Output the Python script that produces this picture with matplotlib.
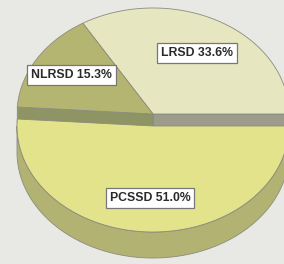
import numpy as np
import matplotlib
matplotlib.use("Agg")
import matplotlib.pyplot as plt
from matplotlib.patches import Polygon

# ---- data ----
labels = ["LRSD", "NLRSD", "PCSSD"]
values = [33.6, 15.3, 51.0]
exploded = [False, False, True]

# ---- style ----
top_colors = ["#e6e6c0", "#b4b571", "#e3e38c"]
side_colors = ["#9d9c8c", "#8e9463", "#b2b273"]
edge = "#8c8c7c"
bg = "#e8e8e5"

CX, CY = 153, 114
RX, RY = 136, 106
DEPTH = 26
EXPLODE = 12
label_frac = [0.66, 0.70, 0.68]

fig = plt.figure(figsize=(2.84, 2.64), dpi=100, facecolor=bg)
ax = fig.add_axes([0, 0, 1, 1])
ax.set_facecolor(bg)
ax.set_xlim(0, 284)
ax.set_ylim(264, 0)
ax.axis("off")

total = sum(values)
bounds = np.concatenate([[0], np.cumsum(values)]) / total * 2 * np.pi


def rim(cx, cy, t):
    return cx + RX * np.cos(t), cy - RY * np.sin(t)


def arc(cx, cy, a0, a1, n=200):
    t = np.linspace(a0, a1, n)
    x, y = rim(cx, cy, t)
    return np.column_stack([x, y])


def draw_slice(i, z):
    a0, a1 = bounds[i], bounds[i + 1]
    cy = CY + (EXPLODE if exploded[i] else 0)
    # outer wall (front part only)
    lo, hi = max(a0, np.pi), min(a1, 2 * np.pi)
    if hi > lo:
        top = arc(CX, cy, lo, hi)
        bot = top[::-1] + [0, DEPTH]
        ax.add_patch(Polygon(np.vstack([top, bot]), closed=True,
                             facecolor=side_colors[i], edgecolor=edge,
                             linewidth=0.6, zorder=z))
    # radial walls facing viewer
    for a, sign in ((a0, -1), (a1, 1)):
        normal = a + sign * np.pi / 2
        if np.sin(normal) < 0:
            px, py = rim(CX, cy, a)
            pts = [(CX, cy), (px, py), (px, py + DEPTH), (CX, cy + DEPTH)]
            ax.add_patch(Polygon(pts, closed=True, facecolor=side_colors[i],
                                 edgecolor=edge, linewidth=0.6, zorder=z))
    # top face
    pts = np.vstack([[CX, cy], arc(CX, cy, a0, a1)])
    ax.add_patch(Polygon(pts, closed=True, facecolor=top_colors[i],
                         edgecolor=edge, linewidth=0.6, zorder=z + 0.5))
    # label
    mid = (a0 + a1) / 2
    lx = CX + RX * label_frac[i] * np.cos(mid)
    ly = cy - RY * label_frac[i] * np.sin(mid)
    ax.text(lx, ly, f"{labels[i]} {values[i]:.1f}%", ha="center", va="center",
            fontsize=8.8, fontweight="bold", family="Liberation Sans",
            color="#2a2a2a", zorder=10,
            bbox=dict(boxstyle="square,pad=0.32", facecolor="white",
                      edgecolor="#777777", linewidth=0.9))


order = [i for i in range(len(values)) if not exploded[i]] + \
        [i for i in range(len(values)) if exploded[i]]
for z, i in enumerate(order):
    draw_slice(i, 2 + z)

fig.savefig("out.png", dpi=100, facecolor=bg)
